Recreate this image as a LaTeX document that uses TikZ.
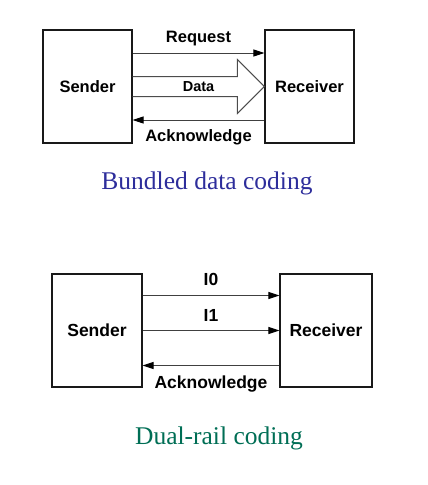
\documentclass[tikz,border=0pt]{standalone}
\usepackage{fontspec}
\setmainfont{Liberation Serif}
\setsansfont{Liberation Sans}
\usetikzlibrary{arrows.meta,positioning,calc}
\definecolor{capblue}{RGB}{45,45,155}
\definecolor{capgreen}{RGB}{0,110,85}
\newcommand{\boxfont}[1]{\sffamily\bfseries\fontsize{#1}{#1}\selectfont}

\begin{document}
\begin{tikzpicture}[x=1pt,y=-1pt,
  box/.style={draw=black!90,line width=1.2pt,inner sep=0pt,minimum width=89pt,minimum height=113pt,font=\boxfont{16.5}},
  sig/.style={draw=black!75,line width=1pt,-{Triangle[length=11pt,width=7pt,color=black]}},
  lbl/.style={font=\boxfont{16.5},inner sep=1pt},
  captxt/.style={font=\fontsize{25.5}{30}\selectfont}]
\useasboundingbox (0,0) rectangle (428,485);
% bundled data
\node[box] (S1) at (87.5,86.5) {Sender};
\node[box] (R1) at (309.5,86.5) {Receiver};
\draw[sig] ([yshift=33.5pt]S1.east) -- ([yshift=33.5pt]R1.west) node[lbl,midway,above=6pt] (Rq) {Request};
\draw[black!70,line width=1pt] ([yshift=10pt]S1.east) -- ([xshift=-27pt,yshift=10pt]R1.west) -- ([xshift=-27pt,yshift=27pt]R1.west)
  -- (R1.west) -- ([xshift=-27pt,yshift=-27pt]R1.west) -- ([xshift=-27pt,yshift=-10pt]R1.west) -- ([yshift=-10pt]S1.east);
\node[lbl,font=\boxfont{14.5}] (Dt) at ($(S1.east)!0.5!(R1.west)$) {Data};
\draw[sig] ([yshift=-33.5pt]R1.west) -- ([yshift=-33.5pt]S1.east) node[lbl,midway,below=8.5pt] (Ak1) {Acknowledge};
\node[captxt,text=capblue] (C1) at (207,183) {Bundled data coding};
% dual rail
\node[box,minimum width=90pt,font=\boxfont{17.5}] (S2) at (97,330.5) {Sender};
\node[box,minimum width=92pt,font=\boxfont{17.5}] (R2) at (326,330.5) {Receiver};
\draw[sig] ([yshift=35pt]S2.east) -- ([yshift=35pt]R2.west) node[lbl,font=\boxfont{17.5},midway,above=8pt] (I0) {I0};
\draw[sig] (S2.east) -- (R2.west) node[lbl,font=\boxfont{17.5},midway,above=8pt] (I1) {I1};
\draw[sig] ([yshift=-35pt]R2.west) -- ([yshift=-35pt]S2.east) node[lbl,font=\boxfont{17.5},midway,below=9pt] (Ak2) {Acknowledge};
\node[captxt,text=capgreen] (C2) at (219,438) {Dual-rail coding};
\end{tikzpicture}
\end{document}
